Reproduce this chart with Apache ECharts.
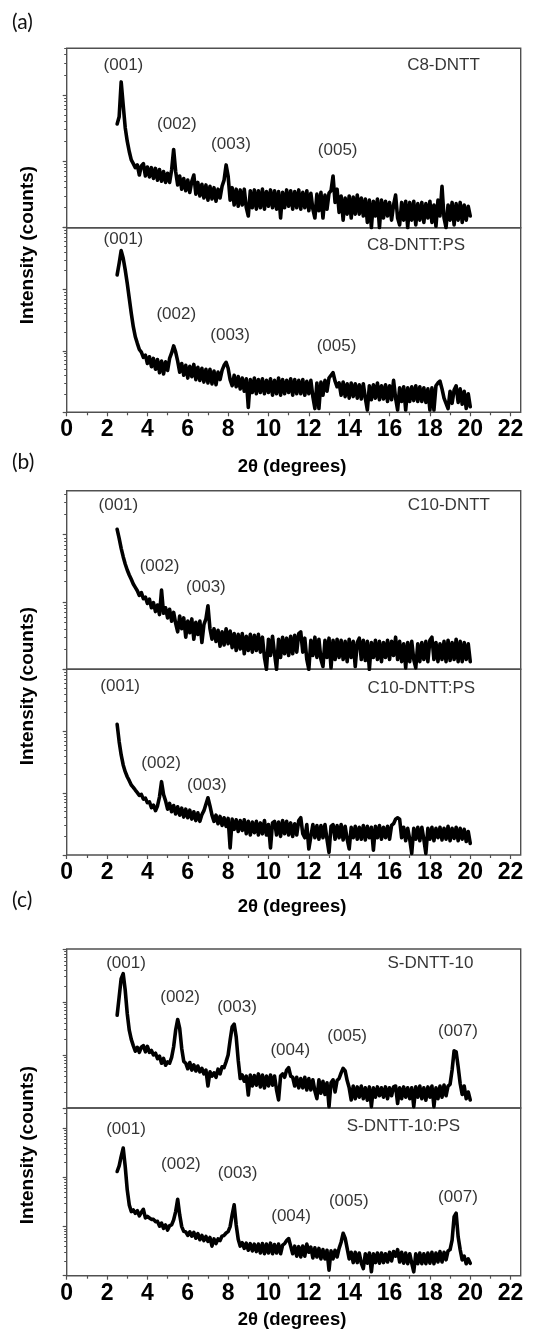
<!DOCTYPE html>
<html><head><meta charset="utf-8">
<script src="https://cdn.jsdelivr.net/npm/echarts@6/dist/echarts.min.js"></script>
<style>html,body{margin:0;padding:0;background:#fff}#c{width:547px;height:1329px}</style>
</head><body><div id="c"></div>
<script>
// sampling grid of the scans (2θ in degrees)
const thetaStart = 2.5, thetaStep = 0.1;

// Intensities (counts), 2θ = 2.5 ... 20.0 in steps of 0.1
const c8dntt = [
363,466,1560,700,320,200,140,105,92,80,
88,62,85,92,60,82,58,80,55,78,
52,75,50,70,48,66,48,74,150,70,
44,60,38,55,36,52,34,50,62,32,
48,30,45,28,44,26,42,27,40,25,
38,28,42,52,88,60,26,40,22,38,
21,37,22,38,20,15,36,20,37,19,
36,20,38,19,35,21,37,20,36,19,
35,14,34,20,37,21,36,19,35,20,
37,19,34,20,36,18,33,19,14,32,
18,34,14,31,19,33,36,60,24,38,
17,30,13,28,16,30,14,29,16,31,
16,28,15,27,12,26,10,25,15,27,
10,26,14,25,15,24,13,22,31,14,
11,24,13,25,10,24,13,25,11,23,
13,24,12,23,14,25,12,22,10.5,26,
15,42,14,10,22,13,24,11,23,13,
24,12,22,13,21,15];
const c8dnttPS = [
1710,2650,4246,3190,2060,1253,714,407,246,169,
132,105,95,78,85,62,80,55,75,50,
72,44,68,42,66,48,75,92,120,95,
68,45,62,40,58,36,56,38,60,34,
54,33,52,31,50,30,50,29,47,28,
45,34,48,58,65,52,34,27,40,26,
38,24,36,22,35,12,34,21,36,20,
34,21,35,20,33,21,35,19,33,20,
36,19,34,20,33,21,35,19,34,20,
33,20,34,19,32,20,33,18,11.5,30,
11.5,31,19,33,22,36,40,44,32,26,
30,19,31,18,29,17,30,18,29,17,
28,16.5,29,17,10.9,27,16,28,17,30,
16,27,16.5,28,15,27,16,33,17,10.9,
25,15,26,10.9,25,15,26,15.5,27,15,
26,15,25,14.5,24,10.9,25,10.9,27,30,
32,24,17,14,11.5,22,14,23,27,14.5,
24,13.5,22,11.5,20,12.3];
const c10dntt = [
1200,883,627,471,367,299,252,217,185,165,
147,125,138,112,118,95,110,82,98,72,
90,65,150,68,82,58,78,52,70,48,
36,62,40,58,30,52,35,56,28,50,
33,52,25,46,56,88,40,28,40,26,
38,22,36,23,40,24,37,21,34,19,
33,20,34,17,31,19,33,18,32,19,
33,18,30,15,10,28,16,31,17,10,
28,15,30,17,29,16,31,17,32,18,
34,36,18,29,14,10,27,16,30,15,
28,14,11,27,15,29,10.5,27,14,28,
15,27,14,26,13,28,15,26,11,25,
29,14,27,13.5,26,10,25,15,27,14,
26,13,25,15,27,14,26,16,30,14,
26,13,24,10.5,25,13,26,14,10.5,24,
13,25,14,26,13,27,30,14,25,13,
24,14,26,13,27,13.5,25,14,28,13,
26,13,25,14,24,13];
const c10dnttPS = [
1291,678,413,285,222,184,159,135,124,112,
102,92,95,80,83,70,72,58,64,52,
62,87,153,95,75,55,68,50,63,46,
60,44,57,41,55,40,53,38,50,36,
48,35,45,52,66,84,62,44,35,44,
32,42,30,40,29,39,13,38,26,37,
24,36,25,37,22,35,21,34,23,35,
21,33,22,36,21,31,13,33,35,21,
34,20,36,22,35,21,33,20,32,21,
36,40,22,19,31,12.5,20,31,19,30,
18,30,19,31,18,11,29,31,18,30,
19,31,17.5,29,18,12.5,28,19,29,18,
28,18,30,17.5,29,19,28,12,29,19,
30,18,28,19,29,18,30,32,38,40,
38,19,28,17,27,18,10.6,27,18,28,
17,28,18,10.6,27,18,28,17,27,19,
28,17.5,27,18,29,17,27,18.5,28,17,
27,18,26,16.5,24,15.4];
const sdntt10 = [
564,1250,2769,3433,1667,606,294,197,150,118,
140,112,140,150,115,145,112,122,100,108,
85,95,70,86,64,74,70,90,143,294,
468,316,133,76,70,55,72,52,65,50,
62,48,56,44,52,26,48,40,46,38,
54,44,60,58,75,100,191,340,382,220,
80,36,42,32,40,17.6,42,26,41,27,
44,25,42,24,40,26,42,27,40,22,
14.2,40,44,38,52,58,40,38,26,38,
24,36,24,38,22,36,22,34,21,15,
34,19,32,18,30,10.6,30,34,20,33,
36,46,56,50,33,24,14.2,26,15,25,
16,26,15,24,14,25,10.6,24,16,25,
17,24,16,25,15,24,17,25,26,12.2,
24,15,25,16,24,15,24,10.6,25,16,
26,15,24,14,25,16,26,10.6,24,15,
26,16,27,17,26,28,52,120,115,60,
29,18,26,15,20,14.2];
const sdntt10PS = [
1325,1730,2685,3975,1675,560,277,202,219,187,
210,165,195,225,150,162,150,140,140,126,
128,102,118,92,108,85,104,108,137,202,
361,173,100,80,78,66,78,64,76,58,
72,54,66,52,63,50,60,40,56,45,
56,52,64,66,74,79,100,173,277,108,
55,40,47,36,46,33,45,32,44,31,
44,29,45,28,44,29,46,28,43,29,
44,28,42,45,52,57,40,28,40,25,
39,24,40,25,44,30,38,23,37,24,
36,22,34,22,33,13,32,22,33,24,
36,48,73,58,36,22,30,18.5,30,18.5,
29,18,14,28,18,29,12,28,18.5,29,
18,29,18.5,28,19,30,20,31,25,34,
19,30,18,29,17.5,28,18,12,28,17.5,
29,17.5,28,17.5,29,18,30,17.5,29,19,
31,19,30,21,32,34,53,160,187,62,
34,21,25,17.5,22,17.9];

// Peak annotations: [label, 2θ, intensity]
const c8dnttPeaks = [['(001)',2.81,2790],['(002)',5.46,362],['(003)',8.14,181],['(005)',13.43,144]];
const c8dnttPSPeaks = [['(001)',2.81,6500],['(002)',5.43,397],['(003)',8.1,181],['(005)',13.37,120]];
const c10dnttPeaks = [['(001)',2.56,2750],['(002)',4.6,335],['(003)',6.9,165]];
const c10dnttPSPeaks = [['(001)',2.65,5400],['(002)',4.68,303],['(003)',6.95,135]];
const sdntt10Peaks = [['(001)',2.94,5300],['(002)',5.62,1213],['(003)',8.44,809],['(004)',11.08,120],['(005)',13.9,227],['(007)',19.39,286]];
const sdntt10PSPeaks = [['(001)',2.94,9400],['(002)',5.66,1815],['(003)',8.47,1189],['(004)',11.12,160],['(005)',13.98,324],['(007)',19.39,397]];

// Sample names: [name, right-edge 2θ, intensity]
const sampleNames = [['C8-DNTT',20.5,2790],['C8-DNTT:PS',19.77,5200],['C10-DNTT',21.0,2750],['C10-DNTT:PS',20.27,5000],['S-DNTT-10',20.18,5300],['S-DNTT-10:PS',19.52,11000]];

// Axis ranges and ticks
const xMin = 0, xMax = 22.5;
const xTickValues = [0,2,4,6,8,10,12,14,16,18,20,22];
const xMinorTickValues = [1,3,5,7,9,11,13,15,17,19,21];
const yMin = 10;
const yMaxes = [5000, 10000, 4500, 10000, 10000, 26000];
const yMajorTicks = [10,100,1000,10000];
const yMinorTicks = [20,30,40,50,60,70,80,90,200,300,400,500,600,700,800,900,2000,3000,4000,5000,6000,7000,8000,9000,20000];
const panelLabels = ['(a)','(b)','(c)'];
const xTitle = '2θ (degrees)';
const yTitle = 'Intensity (counts)';

const seriesData = [c8dntt, c8dnttPS, c10dntt, c10dnttPS, sdntt10, sdntt10PS];
const peaksData = [c8dnttPeaks, c8dnttPSPeaks, c10dnttPeaks, c10dnttPSPeaks, sdntt10Peaks, sdntt10PSPeaks];

// layout
const gridTops = [48.3, 227.7, 490.7, 669.3, 949, 1108];
const gridHeights = [179.4, 184.6, 178.6, 185.7, 159, 167.7];
const FONT = '"Liberation Sans", Arial, sans-serif';
const FRAME = '#505050';

const lg = v => Math.log10(v);
const grids = [], xAxes = [], yAxes = [], series = [];
for (let i = 0; i < 6; i++) {
  const lower = i % 2 === 1;
  grids.push({left: 66.7, right: 26.3, top: gridTops[i], height: gridHeights[i], show: true,
    borderColor: FRAME, borderWidth: 1.4, backgroundColor: 'transparent', containLabel: false});
  const yMaxL = lg(yMaxes[i]);
  const xMajorIdx = xAxes.length;
  xAxes.push({type: 'value', gridIndex: i, min: xMin, max: xMax, position: 'bottom',
    axisLine: {show: false}, splitLine: {show: false},
    axisTick: {show: lower, inside: false, length: 4, customValues: xTickValues, lineStyle: {color: FRAME, width: 1.2}},
    axisLabel: {show: lower, customValues: xTickValues, margin: 6, fontFamily: FONT, fontWeight: 'bold', fontSize: 23, color: '#000'}});
  if (lower) {
    xAxes.push({type: 'value', gridIndex: i, min: xMin, max: xMax, position: 'bottom',
      axisLine: {show: false}, splitLine: {show: false},
      axisTick: {show: true, inside: false, length: 3, customValues: xMinorTickValues, lineStyle: {color: FRAME, width: 1.2}},
      axisLabel: {show: false}});
  }
  const majY = yMajorTicks.filter(v => v >= yMin && v <= yMaxes[i]).map(lg);
  const minY = yMinorTicks.filter(v => v >= yMin && v <= yMaxes[i]).map(lg);
  const yMajorIdx = yAxes.length;
  yAxes.push({type: 'value', gridIndex: i, min: lg(yMin), max: yMaxL, position: 'left',
    axisLine: {show: false}, splitLine: {show: false}, axisLabel: {show: false},
    axisTick: {show: true, inside: false, length: 4, customValues: majY, lineStyle: {color: FRAME, width: 1.2}}});
  yAxes.push({type: 'value', gridIndex: i, min: lg(yMin), max: yMaxL, position: 'left',
    axisLine: {show: false}, splitLine: {show: false}, axisLabel: {show: false},
    axisTick: {show: true, inside: false, length: 2.5, customValues: minY, lineStyle: {color: FRAME, width: 1}}});

  series.push({type: 'line', xAxisIndex: xMajorIdx, yAxisIndex: yMajorIdx, showSymbol: false, symbol: 'none',
    lineStyle: {color: '#000', width: 3.6, join: 'round', cap: 'round'}, animation: false, silent: true,
    data: seriesData[i].map((v, k) => [+(thetaStart + k * thetaStep).toFixed(2), lg(v)])});
  series.push({type: 'scatter', xAxisIndex: xMajorIdx, yAxisIndex: yMajorIdx, symbolSize: 1,
    itemStyle: {color: 'rgba(0,0,0,0)'}, animation: false, silent: true,
    label: {show: true, position: 'inside', formatter: '{b}', fontFamily: FONT, fontSize: 17, color: '#000'},
    data: peaksData[i].map(p => ({name: p[0], value: [p[1], lg(p[2])]}))});
  const sn = sampleNames[i];
  series.push({type: 'scatter', xAxisIndex: xMajorIdx, yAxisIndex: yMajorIdx, symbolSize: 1,
    itemStyle: {color: 'rgba(0,0,0,0)'}, animation: false, silent: true,
    label: {show: true, position: 'left', distance: 0, formatter: '{b}', fontFamily: FONT, fontSize: 17, color: '#000'},
    data: [{name: sn[0], value: [sn[1], lg(sn[2])]}]});
}

const panelLabelY = [24, 464, 902];
const xTitleY = [466.7, 906.7, 1320];
const yTitleY = [245, 686, 1145];
const graphic = [];
for (let p = 0; p < 3; p++) {
  graphic.push({type: 'text', left: 12, top: panelLabelY[p] - 12,
    style: {text: panelLabels[p], font: '21px Lato, "Open Sans", sans-serif', fill: '#111'}});
  graphic.push({type: 'text', x: 292, y: xTitleY[p],
    style: {text: xTitle, font: 'bold 18.5px ' + FONT, fill: '#000', textAlign: 'center', textVerticalAlign: 'middle'}});
  graphic.push({type: 'text', x: 28, y: yTitleY[p], rotation: Math.PI / 2,
    style: {text: yTitle, font: 'bold 19px ' + FONT, fill: '#000', textAlign: 'center', textVerticalAlign: 'middle'}});
}

const chart = echarts.init(document.getElementById('c'), null, {renderer: 'canvas'});
chart.setOption({animation: false, grid: grids, xAxis: xAxes, yAxis: yAxes, series: series, graphic: graphic});
</script></body></html>
